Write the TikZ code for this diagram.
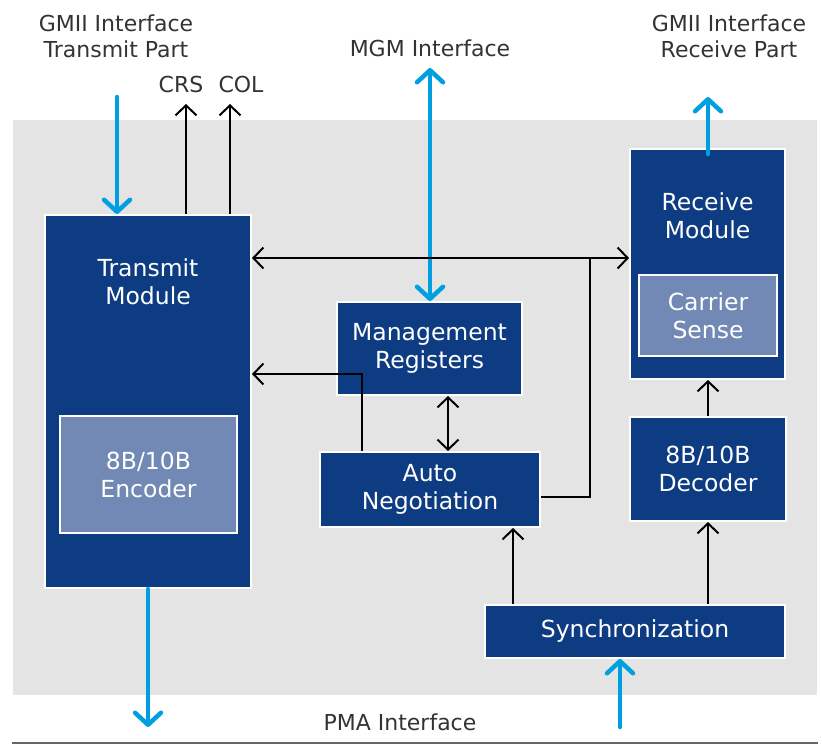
\documentclass[tikz,border=0pt]{standalone}
\usepackage{fontspec}
\setmainfont{DejaVu Sans}
\usepackage{xcolor}
\usetikzlibrary{arrows.meta}
\definecolor{modblue}{HTML}{0E3C82}
\definecolor{subblue}{HTML}{7189B4}
\definecolor{bggray}{HTML}{E4E4E4}
\definecolor{ifblue}{HTML}{00A0E0}
\definecolor{txtgray}{HTML}{333333}
\tikzset{
  module/.style={rectangle, fill=modblue, draw=white, line width=2pt, inner sep=0pt,
    text=white, align=center, font=\fontsize{23.5}{28}\selectfont},
  submod/.style={module, fill=subblue},
  modname/.style={text=white, align=center, font=\fontsize{23.5}{28}\selectfont},
  extlabel/.style={text=txtgray, align=center, font=\fontsize{22}{26}\selectfont},
  sig/.style={line width=2pt, black, >={Straight Barb[length=10pt,width=21pt]}},
  ifc/.style={line width=4.5pt, ifblue, line cap=round, >={Straight Barb[length=12pt,width=26pt,round]}}
}

\begin{document}
\begin{tikzpicture}[x=1pt, y=-1pt]
		\useasboundingbox (0,0) rectangle (822,745);
		\fill[bggray] (13,120) rectangle (817,695);
		\draw[line width=1.5pt, black!60] (12,743) -- (818,743);

		\node[module, minimum width=206, minimum height=373] (tx) at (148,401.5) {};
		\node[modname] (txname) at (148,282) {Transmit\\Module};
		\node[submod, minimum width=177, minimum height=117] (enc) at (148.5,474.5) {8B/10B\\Encoder};
		\node[module, minimum width=185, minimum height=93] (mgmt) at (429.5,348.5) {Management\\Registers};
		\node[module, minimum width=220, minimum height=75] (auto) at (430,489.5) {Auto\\Negotiation};
		\node[module, minimum width=155, minimum height=230] (rx) at (707.5,264) {};
		\node[modname] (rxname) at (707.5,216) {Receive\\Module};
		\node[submod, minimum width=138, minimum height=81] (cs) at (708,315.5) {Carrier\\Sense};
		\node[module, minimum width=156, minimum height=104] (dec) at (708,469) {8B/10B\\Decoder};
		\node[module, minimum width=300, minimum height=53] (sync) at (635,631.5) {Synchronization};

		\node[extlabel] (gtxlabel) at (116,36) {GMII Interface\\Transmit Part};
		\node[extlabel] (crslabel) at (181,84) {CRS};
		\node[extlabel] (collabel) at (241,84) {COL};
		\node[extlabel] (mgmlabel) at (430,48) {MGM Interface};
		\node[extlabel] (grxlabel) at (729,36) {GMII Interface\\Receive Part};
		\node[extlabel] (pmalabel) at (400,722) {PMA Interface};

		\coordinate (gtx) at (117,97);
		\coordinate (crs) at (186,104);
		\coordinate (col) at (230,104);
		\coordinate (mgm) at (430,68);
		\coordinate (grx) at (708,97);
		\coordinate (ptx) at (148,727);
		\coordinate (prx) at (620,727);
		\coordinate (bus) at (590,258);
		\coordinate (fb) at (362,374);
		\coordinate (reg) at (448,0);
		\coordinate (an) at (513,0);

		\draw[ifc, ->] (gtx) -- (tx.north -| gtx);
		\draw[ifc, <->] (mgm) -- (mgmt.north -| mgm);
		\draw[ifc, ->] ([yshift=-6pt]rx.north -| grx) -- (grx);
		\draw[ifc, ->] (tx.south -| ptx) -- (ptx);
		\draw[ifc, ->] (prx) -- (sync.south -| prx);

		\draw[sig, ->] (tx.north -| crs) -- (crs);
		\draw[sig, ->] (tx.north -| col) -- (col);
		\draw[sig, <->] (tx.east |- bus) -- (rx.west |- bus);
		\draw[sig] (bus) |- ([yshift=-7.5pt]auto.east);
		\draw[sig, ->] (auto.north -| fb) -- (fb) -- (tx.east |- fb);
		\draw[sig, <->] (mgmt.south -| reg) -- (auto.north -| reg);
		\draw[sig, ->] (sync.north -| an) -- (auto.south -| an);
		\draw[sig, ->] (sync.north -| dec.south) -- (dec.south);
		\draw[sig, ->] (dec.north) -- (rx.south -| dec.north);
	\end{tikzpicture}
\end{document}
